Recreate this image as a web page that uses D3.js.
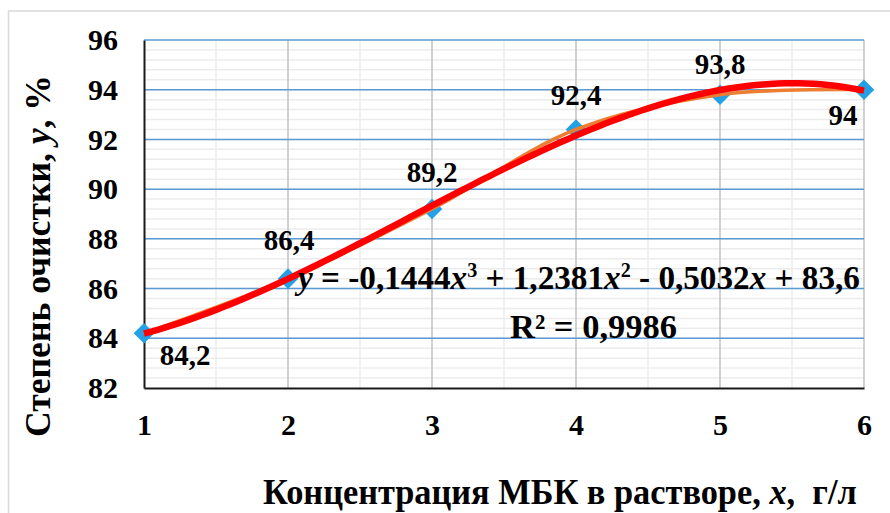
<!DOCTYPE html>
<html>
<head>
<meta charset="utf-8">
<script src="https://cdn.jsdelivr.net/npm/d3@7"></script>
<style>
  html, body { margin: 0; padding: 0; background: #ffffff; }
  svg { display: block; }
</style>
</head>
<body>
<svg id="chart" width="890" height="513"></svg>
<script>
// Concentration of MBK (g/l) and purification degree (%)
const concentrations = [1, 2, 3, 4, 5, 6];
const purification = [84.2, 86.4, 89.2, 92.4, 93.8, 94];
const valueLabels = ["84,2", "86,4", "89,2", "92,4", "93,8", "94"];

// Cubic trendline coefficients, highest power first
const trendCoefs = [-0.1444, 1.2381, -0.5032, 83.6];
const rSquaredLabel = "R² = 0,9986";

const xTicks = [1, 2, 3, 4, 5, 6];
const yTicks = [82, 84, 86, 88, 90, 92, 94, 96];

const FONT = "Liberation Serif";

const svg = d3.select("#chart")
  .attr("font-family", FONT)
  .attr("font-weight", "bold");

const x = d3.scaleLinear().domain([1, 6]).range([144, 864]);
const y = d3.scaleLinear().domain([82, 96]).range([388, 40]);

// squeeze a text horizontally so it spans the given width from its anchor
function fitWidth(sel, width, ax, ay) {
  const w = sel.node().getComputedTextLength();
  const k = width / w;
  sel.attr("transform", `translate(${ax},${ay}) scale(${k},1)`);
}

// chart frame
svg.append("rect")
  .attr("x", 8.5).attr("y", 11).attr("width", 900).attr("height", 520)
  .attr("fill", "none").attr("stroke", "#d9d9d9").attr("stroke-width", 1.5);

const grid = svg.append("g");

// minor gridlines
grid.selectAll("line.hmin")
  .data(d3.range(82.4, 96, 0.4))
  .join("line")
  .attr("x1", x(1)).attr("x2", x(6))
  .attr("y1", d => y(d)).attr("y2", d => y(d))
  .attr("stroke", "#ececec").attr("stroke-width", 1.5);

grid.selectAll("line.vmin")
  .data(d3.range(1.5, 6, 1))
  .join("line")
  .attr("x1", d => x(d)).attr("x2", d => x(d))
  .attr("y1", y(96)).attr("y2", y(82))
  .attr("stroke", "#ececec").attr("stroke-width", 1.5);

// major gridlines
grid.selectAll("line.vmaj")
  .data(xTicks.slice(1))
  .join("line")
  .attr("x1", d => x(d)).attr("x2", d => x(d))
  .attr("y1", y(96)).attr("y2", y(82))
  .attr("stroke", "#c0c0c0").attr("stroke-width", 1.5);

grid.selectAll("line.hmaj")
  .data(yTicks.slice(1))
  .join("line")
  .attr("x1", x(1)).attr("x2", x(6))
  .attr("y1", d => y(d)).attr("y2", d => y(d))
  .attr("stroke", "#5b9bd5").attr("stroke-width", 1.5);

// axes
const xAxis = svg.append("g")
  .attr("transform", `translate(0,${y(82)})`)
  .call(d3.axisBottom(x).tickValues(xTicks).tickSize(0).tickPadding(26).tickFormat(d3.format("d")))
  .attr("font-family", FONT).attr("font-size", 30);
xAxis.select(".domain").attr("stroke", "#1a1a1a").attr("stroke-width", 2);
xAxis.selectAll("text").attr("fill", "#000").attr("font-weight", "bold");

const yAxis = svg.append("g")
  .attr("transform", `translate(${x(1)},0)`)
  .call(d3.axisLeft(y).tickValues(yTicks).tickSize(0).tickPadding(26).tickFormat(d3.format("d")))
  .attr("font-family", FONT).attr("font-size", 30);
yAxis.select(".domain").attr("stroke", "#1a1a1a").attr("stroke-width", 2);
yAxis.selectAll("text").attr("fill", "#000").attr("font-weight", "bold");

// markers
const points = concentrations.map((c, i) => [c, purification[i]]);
const diamond = d3.symbol().type(d3.symbolDiamond2).size(270);
svg.append("g").selectAll("path")
  .data(points)
  .join("path")
  .attr("d", diamond)
  .attr("transform", d => `translate(${x(d[0])},${y(d[1])})`)
  .attr("fill", "#24a0e6");

// smoothed series line
svg.append("path")
  .datum(points)
  .attr("fill", "none")
  .attr("stroke", "#ed7d31")
  .attr("stroke-width", 3.5)
  .attr("d", d3.line().x(d => x(d[0])).y(d => y(d[1])).curve(d3.curveCatmullRom.alpha(0.5)));

// polynomial trendline
const poly = t => trendCoefs.reduce((acc, c) => acc * t + c, 0);
const trendPts = d3.range(1, 6.0001, 0.05).map(t => [t, poly(t)]);
svg.append("path")
  .datum(trendPts)
  .attr("fill", "none")
  .attr("stroke", "#ff0000")
  .attr("stroke-width", 6.5)
  .attr("d", d3.line().x(d => x(d[0])).y(d => y(d[1])));

// value labels: offset from each point [dx, dy]
const labelOffsets = [[41, 22], [1, -39], [0, -37], [0, -34], [0, -31], [-21, 25]];
svg.append("g").selectAll("text")
  .data(points)
  .join("text")
  .attr("x", (d, i) => x(d[0]) + labelOffsets[i][0])
  .attr("y", (d, i) => y(d[1]) + labelOffsets[i][1])
  .attr("text-anchor", "middle")
  .attr("dominant-baseline", "central")
  .attr("font-size", 29)
  .attr("fill", "#000")
  .text((d, i) => valueLabels[i]);

// trendline equation
const eq = svg.append("text")
  .attr("font-size", 33)
  .attr("fill", "#000");
const fmt = v => Math.abs(v).toString().replace(".", ",");
eq.append("tspan").attr("font-style", "italic").text("y");
eq.append("tspan").text(` = ${trendCoefs[0] < 0 ? "-" : ""}${fmt(trendCoefs[0])}`);
eq.append("tspan").attr("font-style", "italic").text("x");
eq.append("tspan").attr("font-size", 20).attr("dy", -12).text("3");
eq.append("tspan").attr("dy", 12).text(` ${trendCoefs[1] < 0 ? "-" : "+"} ${fmt(trendCoefs[1])}`);
eq.append("tspan").attr("font-style", "italic").text("x");
eq.append("tspan").attr("font-size", 20).attr("dy", -12).text("2");
eq.append("tspan").attr("dy", 12).text(` ${trendCoefs[2] < 0 ? "-" : "+"} ${fmt(trendCoefs[2])}`);
eq.append("tspan").attr("font-style", "italic").text("x");
eq.append("tspan").text(` ${trendCoefs[3] < 0 ? "-" : "+"} ${fmt(trendCoefs[3])}`);
fitWidth(eq, 562, 298, 289);

const r2 = svg.append("text")
  .attr("font-size", 33)
  .attr("fill", "#000")
  .text(rSquaredLabel);
fitWidth(r2, 167, 510, 338);

// axis titles
const xTitle = svg.append("text")
  .attr("font-size", 36)
  .attr("fill", "#000");
xTitle.append("tspan").text("Концентрация МБК в растворе, ");
xTitle.append("tspan").attr("font-style", "italic").text("x");
xTitle.append("tspan").text(",\u00a0 г/л");
fitWidth(xTitle, 594, 263, 504);

const yTitle = svg.append("text")
  .attr("text-anchor", "middle")
  .attr("font-size", 36)
  .attr("fill", "#000");
yTitle.append("tspan").text("Степень очистки, ");
yTitle.append("tspan").attr("font-style", "italic").text("y");
yTitle.append("tspan").text(", %");
{
  const w = yTitle.node().getComputedTextLength();
  yTitle.attr("transform", `translate(50,256) rotate(-90) scale(${362 / w},1)`);
}
</script>
</body>
</html>
